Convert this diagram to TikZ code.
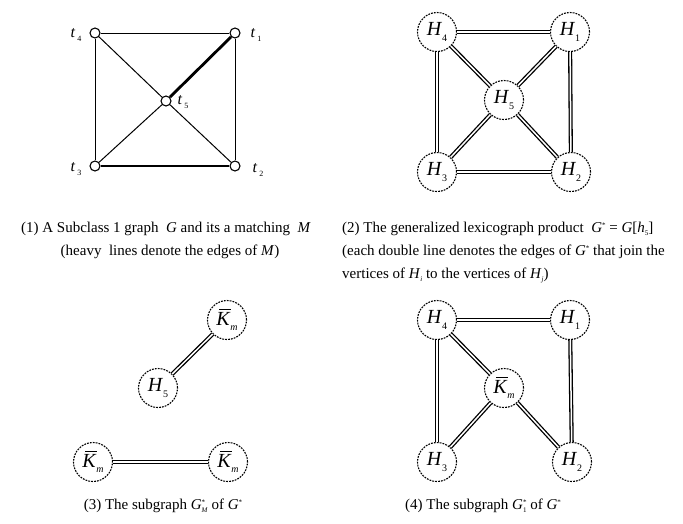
\documentclass[tikz,border=0pt]{standalone}
\usepackage{fontspec}
\setmainfont{Liberation Serif}
\newcommand\Hsub[1]{\textit{H}\kern0pt\raisebox{-5.5pt}{\fontsize{10}{10}\selectfont #1}}
\newcommand\Kbar{\rlap{\kern3pt\raisebox{15pt}{\rule{12pt}{0.7pt}}}\textit{K}\kern0pt\raisebox{-5.5pt}{\fontsize{10}{10}\selectfont\textit{m}}}
\newcommand\tsub[1]{\textit{t}\kern2pt\raisebox{-4pt}{\fontsize{8}{8}\selectfont #1}}
\newcommand\Gst{\textit{G}\raisebox{5pt}{\fontsize{7}{7}\selectfont *}}
\newcommand\Gsubst[1]{\textit{G}\raisebox{-3pt}{\fontsize{7}{7}\selectfont\shortstack[l]{*\\#1}}}
\tikzset{
  vtx/.style={circle, draw, line width=1.1pt, fill=white, minimum size=10pt, inner sep=0pt},
  plain/.style={line width=1pt},
  heavy/.style={line width=2.8pt},
  hnode/.style={circle, draw, dash pattern=on 1.8pt off 1.1pt, line width=1.1pt, fill=white, minimum size=39pt, inner sep=0pt, font=\fontsize{20}{20}\selectfont},
  dbl/.style={double, line width=1.3pt, double distance=1.5pt},
  tlab/.style={inner sep=0pt, font=\fontsize{16}{16}\selectfont},
  captext/.style={inner sep=0pt, font=\fontsize{15}{15}\selectfont, anchor=base},
}
\begin{document}
\begin{tikzpicture}[x=1pt, y=-1pt]
\useasboundingbox (0,0) rectangle (683,523);
% panel 1
\node[vtx] (t4) at (95,33) {};
\node[vtx] (t1) at (235,33) {};
\node[vtx] (t3) at (95,166) {};
\node[vtx] (t2) at (235,166) {};
\node[vtx] (t5) at (166,101) {};
\draw[plain] (t4) -- (t1);
\draw[plain] (t4) -- (t3);
\draw[plain] (t1) -- (t2);
\draw[plain] (t4) -- (t5);
\draw[plain] (t3) -- (t5);
\draw[plain] (t5) -- (t2);
\draw[heavy] (t5) -- (t1);
\draw[heavy] (t3) -- (t2);
\node[tlab] (l4) at (76,35) {\tsub{4}};
\node[tlab] (l1) at (256,35) {\tsub{1}};
\node[tlab] (l5) at (183,102) {\tsub{5}};
\node[tlab] (l3) at (76,169) {\tsub{3}};
\node[tlab] (l2) at (258,170) {\tsub{2}};
% panel 2
\node[hnode] (a4) at (437,32) {\Hsub{4}};
\node[hnode] (a1) at (570,32) {\Hsub{1}};
\node[hnode] (a5) at (504,100) {\Hsub{5}};
\node[hnode] (a3) at (437,172) {\Hsub{3}};
\node[hnode] (a2) at (571,172) {\Hsub{2}};
\draw[dbl] (a4) -- (a1);
\draw[dbl] (a4) -- (a3);
\draw[dbl] (a1) -- (a2);
\draw[dbl] (a3) -- (a2);
\draw[dbl] (a4) -- (a5);
\draw[dbl] (a1) -- (a5);
\draw[dbl] (a3) -- (a5);
\draw[dbl] (a2) -- (a5);
% panel 3
\node[hnode] (b1) at (227,320) {\Kbar};
\node[hnode] (b5) at (158,388) {\Hsub{5}};
\node[hnode] (b2) at (93,462) {\Kbar};
\node[hnode] (b3) at (228,462) {\Kbar};
\draw[dbl] (b5) -- (b1);
\draw[dbl] (b2) -- (b3);
% panel 4
\node[hnode] (c4) at (437,320) {\Hsub{4}};
\node[hnode] (c1) at (570,320) {\Hsub{1}};
\node[hnode] (ck) at (504,388) {\Kbar};
\node[hnode] (c3) at (437,462) {\Hsub{3}};
\node[hnode] (c2) at (572,462) {\Hsub{2}};
\draw[dbl] (c4) -- (c1);
\draw[dbl] (c4) -- (c3);
\draw[dbl] (c1) -- (c2);
\draw[dbl] (c4) -- (ck);
\draw[dbl] (c3) -- (ck);
\draw[dbl] (c2) -- (ck);
% captions
\node[captext] (cap1a) at (166,232) {(1) A Subclass 1 graph\ \ \textit{G} and its a matching\ \ \textit{M}};
\node[captext] (cap1b) at (170,255) {(heavy\ \ lines denote the edges of \textit{M})};
\node[captext, anchor=base west] (cap2a) at (342,232) {(2) The generalized lexicograph product\ \ \Gst\ = \textit{G}[\textit{h}\raisebox{-3pt}{\fontsize{7}{7}\selectfont 5}]};
\node[captext, anchor=base west] (cap2b) at (342,255) {(each double line denotes the edges of \Gst\ that join the};
\node[captext, anchor=base west] (cap2c) at (342,278) {vertices of \textit{H}\raisebox{-3pt}{\fontsize{7}{7}\selectfont\textit{i}} to the vertices of \textit{H}\raisebox{-3pt}{\fontsize{7}{7}\selectfont\textit{j}})};
\node[captext] (cap3) at (163,509) {(3) The subgraph \Gsubst{\textit{M}} of \Gst};
\node[captext] (cap4) at (483,509) {(4) The subgraph \Gsubst{1} of \Gst};
\end{tikzpicture}
\end{document}
